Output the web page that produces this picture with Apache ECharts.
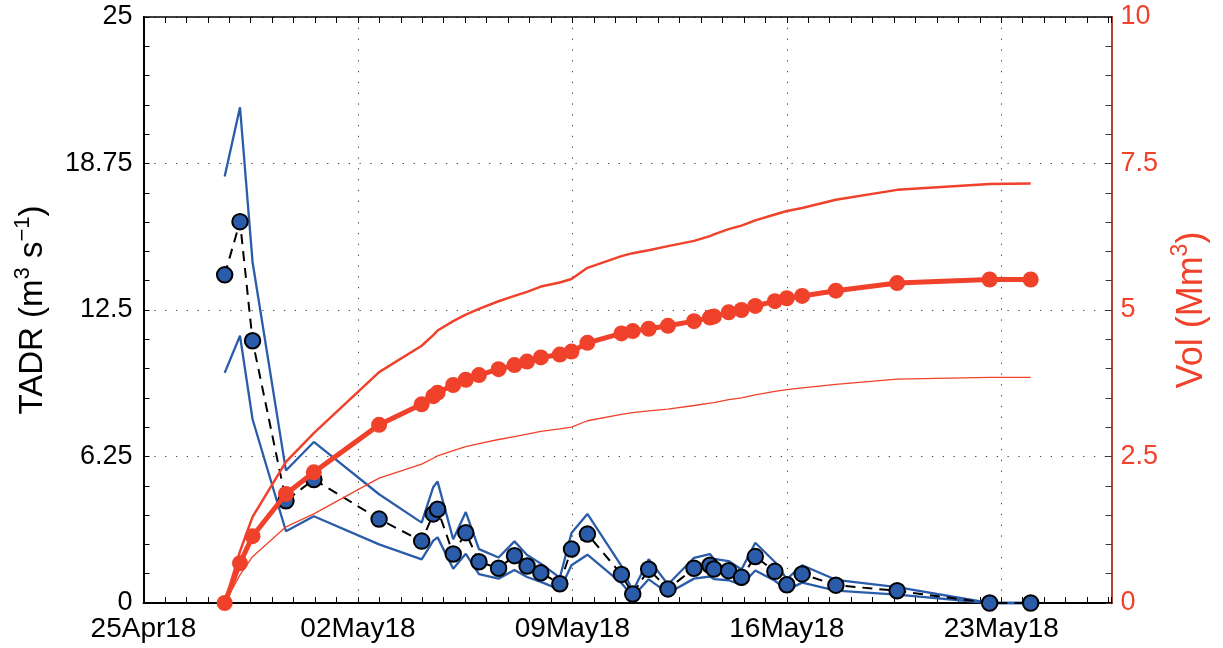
<!DOCTYPE html>
<html><head><meta charset="utf-8">
<script src="https://cdn.jsdelivr.net/npm/echarts@6/dist/echarts.min.js"></script>
<style>html,body{margin:0;padding:0;background:#fff}#c{width:1223px;height:648px}</style>
</head><body><div id="c"></div>
<script>
// sample times
const dates = [
  '2018-04-27T15:36','2018-04-28T03:36','2018-04-28T13:26','2018-04-29T15:36','2018-04-30T13:26',
  '2018-05-02T16:34','2018-05-04T01:55','2018-05-04T11:02','2018-05-04T14:24','2018-05-05T02:38',
  '2018-05-05T12:29','2018-05-05T22:48','2018-05-06T14:10','2018-05-07T02:38','2018-05-07T12:29',
  '2018-05-07T23:17','2018-05-08T14:10','2018-05-08T23:17','2018-05-09T11:46','2018-05-10T14:24',
  '2018-05-10T23:17','2018-05-11T11:46','2018-05-12T02:53','2018-05-12T23:17','2018-05-13T11:46',
  '2018-05-13T14:53','2018-05-14T02:24','2018-05-14T12:29','2018-05-14T23:17','2018-05-15T14:38',
  '2018-05-16T00:00','2018-05-16T12:00','2018-05-17T14:24','2018-05-19T14:24','2018-05-22T14:53',
  '2018-05-23T23:02'
];
// TADR (m3/s)
const tadr = [14.0,16.27,11.19,4.36,5.27,3.58,2.64,3.80,4.0,2.09,3.0,1.76,1.48,2.02,1.58,1.29,0.82,2.30,2.94,1.22,
  0.38,1.44,0.60,1.48,1.61,1.45,1.38,1.10,1.98,1.35,0.78,1.24,0.76,0.52,0,0];
const tadrUpper = [18.2,21.15,14.55,5.65,6.87,4.64,3.43,4.95,5.18,2.72,3.88,2.3,1.94,2.63,2.05,1.68,1.08,2.99,3.8,1.58,
  0.5,1.87,0.79,1.93,2.09,1.88,1.79,1.43,2.57,1.75,1.02,1.61,0.99,0.68,0,0];
const tadrLower = [9.82,11.4,7.84,3.06,3.7,2.5,1.86,2.66,2.8,1.46,2.1,1.23,1.04,1.41,1.11,0.9,0.57,1.61,2.06,0.85,
  0.27,1.01,0.42,1.04,1.13,1.02,0.97,0.77,1.39,0.95,0.55,0.87,0.53,0.36,0,0];
// Volume (Mm3)
const vol = [0,0.68,1.14,1.86,2.23,3.04,3.39,3.53,3.59,3.72,3.81,3.89,3.99,4.06,4.12,4.19,4.24,4.29,4.44,4.60,
  4.64,4.68,4.73,4.81,4.87,4.89,4.96,5.00,5.07,5.15,5.20,5.24,5.33,5.46,5.52,5.52];
const volUpper = [0,0.88,1.47,2.41,2.9,3.94,4.39,4.57,4.65,4.81,4.92,5.02,5.15,5.24,5.31,5.4,5.47,5.53,5.72,5.92,
  5.97,6.02,6.09,6.18,6.26,6.29,6.38,6.44,6.53,6.63,6.69,6.74,6.88,7.05,7.15,7.16];
const volLower = [0,0.48,0.79,1.3,1.52,2.13,2.37,2.47,2.51,2.6,2.67,2.72,2.79,2.84,2.88,2.93,2.97,3.0,3.11,3.22,
  3.25,3.28,3.31,3.37,3.41,3.42,3.47,3.5,3.55,3.61,3.64,3.67,3.73,3.82,3.85,3.85];
const xTickLabels = ['25Apr18','02May18','09May18','16May18','23May18'];
const yLeftTicks = [0, 6.25, 12.5, 18.75, 25];
const yRightTicks = [0, 2.5, 5, 7.5, 10];
const xStart = '2018-04-25T00:00';
const xEndDays = 31.6;

const t0 = Date.parse(xStart);
const xs = dates.map(d => (Date.parse(d) - t0) / 86400000);
const pairs = arr => arr.map((v, i) => [xs[i], v]);

const FONT = "'Liberation Sans', Arial, Helvetica, sans-serif";
const BLUE = '#2a5caa';
const RED = '#f0412a';
const GRIDLINE = {show: true, lineStyle: {color: '#444', width: 1, type: [1.3, 9.5]}};

const chart = echarts.init(document.getElementById('c'), null, {renderer: 'canvas'});
const option = {
  animation: false,
  grid: {left: 143.5, right: 106, top: 17, bottom: 45, containLabel: false},
  xAxis: [{
    type: 'value', min: 0, max: xEndDays, interval: 7,
    axisLine: {show: true, onZero: false, lineStyle: {color: '#000', width: 2}},
    axisTick: {show: true, inside: true, length: 6, lineStyle: {color: '#000', width: 1}},
    minorTick: {show: true, splitNumber: 10, length: 6, lineStyle: {color: '#000', width: 1}},
    axisLabel: {
      formatter: v => { const k = Math.round(v / 7); return (Math.abs(v - 7 * k) < 1e-6 && xTickLabels[k]) ? xTickLabels[k] : ''; },
      color: '#000', fontSize: 28, fontFamily: FONT, margin: 12
    },
    splitLine: GRIDLINE
  }, {
    type: 'value', position: 'top', min: 0, max: xEndDays, interval: 7,
    axisLine: {show: true, onZero: false, lineStyle: {color: '#000', width: 1.5}},
    axisTick: {show: true, inside: true, length: 6, lineStyle: {color: '#000', width: 1}},
    minorTick: {show: true, splitNumber: 10, length: 6, lineStyle: {color: '#000', width: 1}},
    axisLabel: {show: false}, splitLine: {show: false}
  }],
  yAxis: [{
    type: 'value', position: 'left', min: yLeftTicks[0], max: yLeftTicks[yLeftTicks.length - 1], interval: yLeftTicks[1] - yLeftTicks[0],
    axisLine: {show: true, onZero: false, lineStyle: {color: '#000', width: 2}},
    axisTick: {show: true, inside: true, length: 6, lineStyle: {color: '#000', width: 1}},
    minorTick: {show: true, splitNumber: 5, length: 6, lineStyle: {color: '#000', width: 1}},
    axisLabel: {color: '#000', fontSize: 27, fontFamily: FONT, margin: 11},
    splitLine: GRIDLINE,
    name: 'TADR (m{sup|3} s{sup|\u22121})',
    nameLocation: 'middle', nameRotate: 90, nameGap: 88,
    nameTextStyle: {color: '#000', fontSize: 33, fontFamily: FONT, lineHeight: 42,
      rich: {sup: {fontSize: 22, lineHeight: 22, verticalAlign: 'top', fontFamily: FONT, color: '#000'}}}
  }, {
    type: 'value', position: 'right', min: yRightTicks[0], max: yRightTicks[yRightTicks.length - 1], interval: yRightTicks[1] - yRightTicks[0],
    axisLine: {show: true, onZero: false, lineStyle: {color: '#b5402f', width: 2}},
    axisTick: {show: true, inside: true, length: 6, lineStyle: {color: '#3a3a3a', width: 1}},
    minorTick: {show: true, splitNumber: 5, length: 6, lineStyle: {color: '#3a3a3a', width: 1}},
    axisLabel: {color: RED, fontSize: 27, fontFamily: FONT, margin: 9},
    splitLine: {show: false},
    name: 'Vol (Mm{sup|3})',
    nameLocation: 'middle', nameRotate: 90, nameGap: 57,
    nameTextStyle: {color: RED, fontSize: 36, fontFamily: FONT, lineHeight: 46,
      rich: {sup: {fontSize: 23, lineHeight: 23, verticalAlign: 'top', fontFamily: FONT, color: RED}}}
  }],
  series: [
    {type: 'line', name: 'TADR upper', data: pairs(tadrUpper), xAxisIndex: 0, yAxisIndex: 0, showSymbol: false, symbol: 'none', clip: false, silent: true,
      lineStyle: {color: BLUE, width: 2.3}, z: 2},
    {type: 'line', name: 'TADR lower', data: pairs(tadrLower), xAxisIndex: 0, yAxisIndex: 0, showSymbol: false, symbol: 'none', clip: false, silent: true,
      lineStyle: {color: BLUE, width: 2.3}, z: 2},
    {type: 'line', name: 'TADR', data: pairs(tadr), xAxisIndex: 0, yAxisIndex: 0, symbol: 'circle', symbolSize: 15.5, showAllSymbol: true, clip: false, silent: true,
      lineStyle: {color: '#000', width: 2, type: [10, 7]}, itemStyle: {color: BLUE, borderColor: '#000', borderWidth: 2}, z: 3},
    {type: 'line', name: 'Vol upper', data: pairs(volUpper), xAxisIndex: 0, yAxisIndex: 1, showSymbol: false, symbol: 'none', clip: false, silent: true,
      lineStyle: {color: RED, width: 2.5}, z: 4},
    {type: 'line', name: 'Vol lower', data: pairs(volLower), xAxisIndex: 0, yAxisIndex: 1, showSymbol: false, symbol: 'none', clip: false, silent: true,
      lineStyle: {color: RED, width: 1.3}, z: 4},
    {type: 'line', name: 'Vol', data: pairs(vol), xAxisIndex: 0, yAxisIndex: 1, symbol: 'circle', symbolSize: 16, showAllSymbol: true, clip: false, silent: true,
      lineStyle: {color: RED, width: 5}, itemStyle: {color: RED, borderWidth: 0}, z: 5}
  ]
};
chart.setOption(option);
</script></body></html>
